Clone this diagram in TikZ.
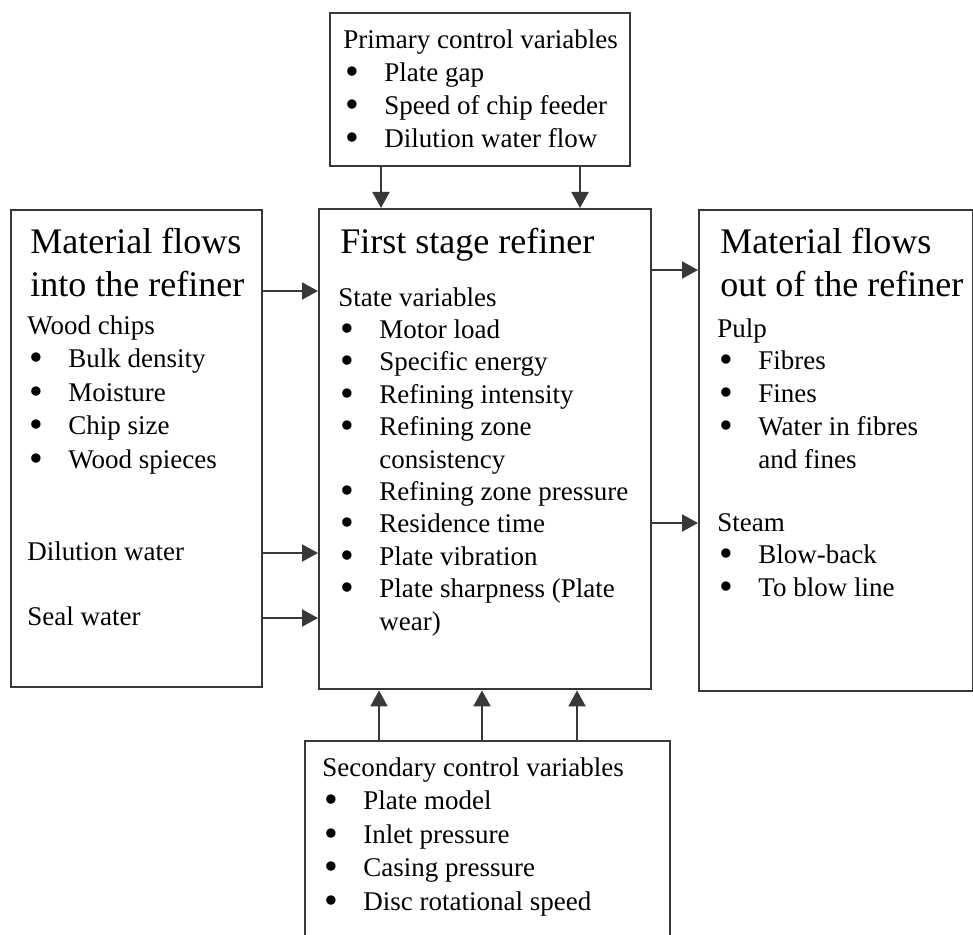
\documentclass[tikz,border=0pt]{standalone}
\usepackage{fontspec}
\setmainfont{Liberation Serif}
\usetikzlibrary{arrows.meta,positioning}
\definecolor{traco}{HTML}{383838}
\tikzset{
    painel/.style={
        rectangle,
        draw=traco,
        line width=1.2pt,
        anchor=north west,
        inner sep=0pt
    },
    texto/.style={
        anchor=north west,
        inner sep=0pt,
        align=left,
        font=\fontsize{13.5}{16.4}\selectfont
    },
    titulo/.style={texto, font=\fontsize{18}{21.5}\selectfont},
    seta/.style={-{Triangle[length=8pt,width=8.5pt]}, line width=1pt, draw=traco}
}
\newcommand{\pto}{\makebox[20.5pt][l]{\hspace{1pt}\raisebox{-0.11em}{\scalebox{1.45}{\textbullet}}}}
\newcommand{\cont}{\hspace*{20.5pt}}

\begin{document}
\begin{tikzpicture}[x=0.5pt, y=-0.5pt]
    \useasboundingbox (0,0) rectangle (973,935);
    % caixas
    \node[painel, minimum width=150pt, minimum height=76.5pt] (primary) at (329,12) {};
    \node[painel, minimum width=125.5pt, minimum height=238.5pt] (inflows) at (10,209) {};
    \node[painel, minimum width=166pt, minimum height=240pt] (refiner) at (318,208) {};
    \node[painel, minimum width=137pt, minimum height=240.5pt] (outflows) at (698,209) {};
    \node[painel, minimum width=182.5pt, minimum height=110pt] (secondary) at (304,740) {};
    % textos
    \node[texto, font=\fontsize{13.5}{16.6}\selectfont] (primtxt) at (343,29)
        {Primary control variables\\
         \pto Plate gap\\
         \pto Speed of chip feeder\\
         \pto Dilution water flow};
    \node[titulo] (intitle) at (30,228) {Material flows\\into the refiner};
    \node[texto, font=\fontsize{13.5}{16.8}\selectfont] (intxt) at (27,315)
        {Wood chips\\
         \pto Bulk density\\
         \pto Moisture\\
         \pto Chip size\\
         \pto Wood spieces\\[29pt]
         Dilution water\\[16pt]
         Seal water};
    \node[titulo] (reftitle) at (340,228) {First stage refiner};
    \node[texto, font=\fontsize{13.5}{16.2}\selectfont] (reftxt) at (338,287)
        {State variables\\
         \pto Motor load\\
         \pto Specific energy\\
         \pto Refining intensity\\
         \pto Refining zone\\
         \cont consistency\\
         \pto Refining zone pressure\\
         \pto Residence time\\
         \pto Plate vibration\\
         \pto Plate sharpness (Plate\\
         \cont wear)};
    \node[titulo] (outtitle) at (720,228) {Material flows\\out of the refiner};
    \node[texto] (outtxt) at (717,318)
        {Pulp\\
         \pto Fibres\\
         \pto Fines\\
         \pto Water in fibres\\
         \cont and fines\\[15pt]
         Steam\\
         \pto Blow-back\\
         \pto To blow line};
    \node[texto, font=\fontsize{13.5}{16.8}\selectfont] (sectxt) at (322,757)
        {Secondary control variables\\
         \pto Plate model\\
         \pto Inlet pressure\\
         \pto Casing pressure\\
         \pto Disc rotational speed};
    % setas
    \draw[seta] (primary.south -| 381,0) -- (refiner.north -| 381,0);
    \draw[seta] (primary.south -| 580,0) -- (refiner.north -| 580,0);
    \draw[seta] (inflows.east |- 0,291) -- (refiner.west |- 0,291);
    \draw[seta] (inflows.east |- 0,553) -- (refiner.west |- 0,553);
    \draw[seta] (inflows.east |- 0,618) -- (refiner.west |- 0,618);
    \draw[seta] (refiner.east |- 0,270) -- (outflows.west |- 0,270);
    \draw[seta] (refiner.east |- 0,523) -- (outflows.west |- 0,523);
    \draw[seta] (secondary.north -| 379,0) -- (refiner.south -| 379,0);
    \draw[seta] (secondary.north -| 482,0) -- (refiner.south -| 482,0);
    \draw[seta] (secondary.north -| 577,0) -- (refiner.south -| 577,0);
\end{tikzpicture}
\end{document}
